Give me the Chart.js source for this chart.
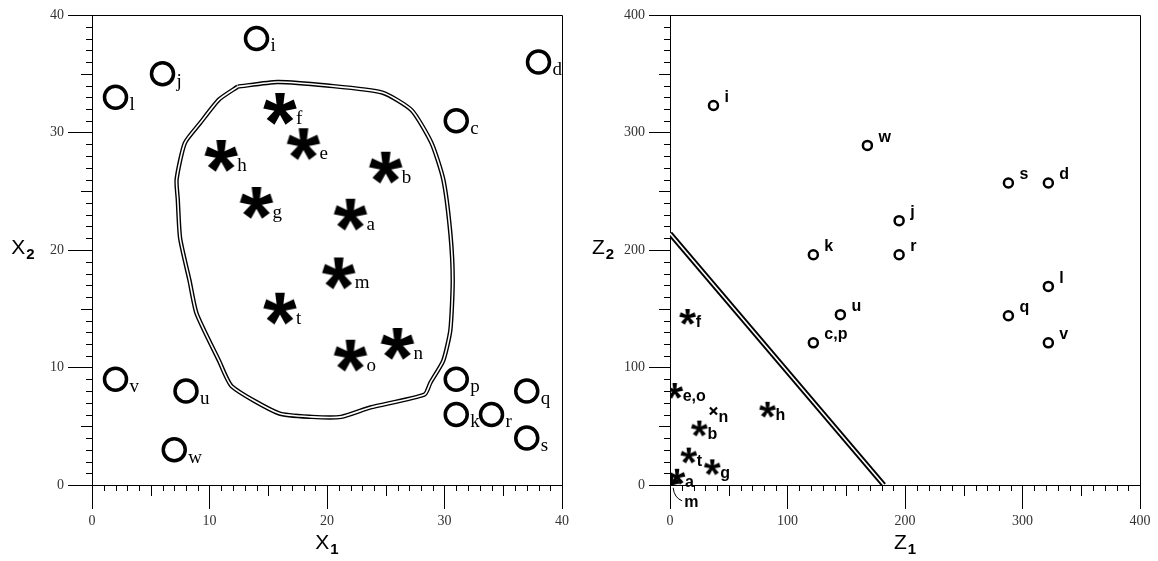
<!DOCTYPE html>
<html>
<head>
<meta charset="utf-8">
<script src="https://cdn.jsdelivr.net/npm/chart.js@4.4.1/dist/chart.umd.min.js"></script>
<style>
  body { margin: 0; background: #fff; width: 1158px; height: 561px; overflow: hidden; position: relative; }
  canvas { position: absolute; top: 0; }
  #left-chart { left: 0; }
  #right-chart { left: 580px; }
</style>
</head>
<body>
<canvas id="left-chart" width="580" height="561"></canvas>
<canvas id="right-chart" width="578" height="561"></canvas>
<script>
/* ================================
   DATA
   ================================ */

// left panel, original space X1 / X2 - open circles
const xCircleLabels = ['i', 'j', 'l', 'd', 'c', 'v', 'u', 'w', 'p', 'k', 'r', 'q', 's'];
const xCircleX1 = [14, 6, 2, 38, 31, 2, 8, 7, 31, 31, 34, 37, 37];
const xCircleX2 = [38, 35, 33, 36, 31, 9, 8, 3, 9, 6, 6, 8, 4];

// left panel - asterisks
const xStarLabels = ['f', 'e', 'h', 'b', 'g', 'a', 'm', 't', 'o', 'n'];
const xStarX1 = [16, 18, 11, 25, 14, 22, 21, 16, 22, 26];
const xStarX2 = [32, 29, 28, 27, 24, 23, 18, 15, 11, 12];

// left panel - closed boundary curve
const boundaryX1 = [12.4, 15.8, 20, 24.7, 27.2, 28.9, 29.9, 30.5, 30.7, 30.5, 29.9, 28.8, 28.3, 23.7, 21.2, 18.7, 15.9, 11.9, 10.8, 8.9, 8.3, 7.5, 7.3, 7.2, 7.9, 9.2, 10.8, 12.4];
const boundaryX2 = [33.9, 34.3, 34, 33.4, 31.9, 29.1, 26, 21.4, 17.4, 13.2, 10.6, 8.7, 7.7, 6.6, 5.8, 5.8, 6.1, 8.4, 10.6, 14.6, 17.4, 21, 24.3, 26, 29.1, 30.8, 32.8, 33.9];

// right panel, transformed space Z1 / Z2 - open circles
const zCircleLabels = ['i', 'w', 's', 'd', 'j', 'k', 'r', 'l', 'q', 'u', 'c,p', 'v'];
const zCircleZ1 = [37, 168, 288, 322, 195, 122, 195, 322, 288, 145, 122, 322];
const zCircleZ2 = [323, 289, 257, 257, 225, 196, 196, 169, 144, 145, 121, 121];

// right panel - asterisks
const zStarLabels = ['f', 'e,o', 'h', 'b', 't', 'g', 'a'];
const zStarZ1 = [15, 4, 83, 25, 16, 36, 6];
const zStarZ2 = [143, 80, 64, 48, 25, 15, 7];

// right panel - point m (label hangs below with a leader)
const zMLabels = ['m'];
const zMZ1 = [1];
const zMZ2 = [1];

// right panel - point n drawn as a small x
const zCrossLabels = ['n'];
const zCrossZ1 = [37];
const zCrossZ2 = [63];

// right panel - separating line
const lineZ1 = [0, 182];
const lineZ2 = [214, 0];

/* ================================
   HELPERS
   ================================ */

const toPoints = (xs, ys) => xs.map((v, k) => ({ x: v, y: ys[k] }));

// 5-armed asterisk used as a point image
function makeAsterisk(r, w) {
  const c = document.createElement('canvas');
  const s = Math.ceil(2 * r + w + 4);
  c.width = c.height = s;
  const g = c.getContext('2d');
  g.translate(s / 2, s / 2);
  g.fillStyle = '#000';
  for (let k = 0; k < 5; k++) {
    const a = -Math.PI / 2 + k * 2 * Math.PI / 5;
    const ca = Math.cos(a), sa = Math.sin(a);
    const nx = -sa, ny = ca;
    g.beginPath();
    g.moveTo(nx * w * 0.35, ny * w * 0.35);
    g.lineTo(r * ca + nx * w * 0.6, r * sa + ny * w * 0.6);
    g.lineTo(r * ca - nx * w * 0.6, r * sa - ny * w * 0.6);
    g.lineTo(-nx * w * 0.35, -ny * w * 0.35);
    g.closePath();
    g.fill();
  }
  g.beginPath();
  g.arc(0, 0, w * 0.5, 0, Math.PI * 2);
  g.fill();
  return c;
}

const bigStar = makeAsterisk(16, 8);
const smallStar = makeAsterisk(8, 3.8);

// minor ticks + top/right frame + axis titles
const frameTicks = {
  id: 'frameTicks',
  afterDraw(chart, args, opts) {
    const { ctx, chartArea: a, scales: { x, y } } = chart;
    ctx.save();
    ctx.strokeStyle = '#000';
    ctx.lineWidth = 1;
    ctx.beginPath();
    ctx.moveTo(a.left, a.top + 0.5);
    ctx.lineTo(a.right + 0.5, a.top + 0.5);
    ctx.lineTo(a.right + 0.5, a.bottom);
    for (let v = opts.minor; v < x.max; v += opts.minor) {
      if (v % opts.major === 0) continue;
      const len = v % opts.mid === 0 ? 11 : 6;
      const px = Math.round(x.getPixelForValue(v)) + 0.5;
      ctx.moveTo(px, a.bottom);
      ctx.lineTo(px, a.bottom + len);
    }
    for (let v = opts.minor; v < y.max; v += opts.minor) {
      if (v % opts.major === 0) continue;
      const len = v % opts.mid === 0 ? 11 : 6;
      const py = Math.round(y.getPixelForValue(v)) + 0.5;
      ctx.moveTo(a.left, py);
      ctx.lineTo(a.left - len, py);
    }
    ctx.stroke();

    // axis titles with subscripts
    const drawSub = (main, sub, cx, cy) => {
      ctx.font = '21px "Liberation Sans", Arial, sans-serif';
      const w1 = ctx.measureText(main).width;
      ctx.font = 'bold 15px "Liberation Sans", Arial, sans-serif';
      const w2 = ctx.measureText(sub).width;
      const left = cx - (w1 + w2 + 1) / 2;
      ctx.fillStyle = '#000';
      ctx.textBaseline = 'middle';
      ctx.textAlign = 'left';
      ctx.font = '21px "Liberation Sans", Arial, sans-serif';
      ctx.fillText(main, left, cy);
      ctx.font = 'bold 15px "Liberation Sans", Arial, sans-serif';
      ctx.fillText(sub, left + w1 + 1, cy + 7);
    };
    drawSub(opts.xTitle[0], opts.xTitle[1], (a.left + a.right) / 2, a.bottom + 58);
    drawSub(opts.yTitle[0], opts.yTitle[1], opts.yTitleX, (a.top + a.bottom) / 2 - 2);
    ctx.restore();
  }
};

// letter labels next to each point
const pointLabels = {
  id: 'pointLabels',
  afterDatasetsDraw(chart) {
    const ctx = chart.ctx;
    chart.data.datasets.forEach((ds, i) => {
      if (!ds.labels) return;
      const meta = chart.getDatasetMeta(i);
      ctx.save();
      ctx.font = ds.labelFont;
      ctx.fillStyle = '#000';
      ctx.textBaseline = 'middle';
      ctx.textAlign = 'left';
      meta.data.forEach((pt, j) => {
        ctx.fillText(ds.labels[j], pt.x + ds.labelDx, pt.y + ds.labelDy);
        if (ds.leader) {
          ctx.beginPath();
          ctx.lineWidth = 1;
          ctx.strokeStyle = '#000';
          ctx.moveTo(pt.x + 2, pt.y + 4);
          ctx.quadraticCurveTo(pt.x + 3, pt.y + 14, pt.x + 11, pt.y + 17);
          ctx.stroke();
        }
      });
      ctx.restore();
    });
  }
};

function scaleOpts(max, step, size, tickLen) {
  return {
    type: 'linear',
    min: 0,
    max: max,
    ticks: {
      stepSize: step,
      color: '#333',
      font: { family: '"Liberation Serif", serif', size: 14 },
      padding: 4,
      maxRotation: 0,
      autoSkip: false
    },
    grid: { drawOnChartArea: false, tickLength: tickLen, color: '#000' },
    border: { color: '#000' },
    afterFit: s => {
      if (s.isHorizontal()) s.height = size; else s.width = size;
    }
  };
}

function baseOptions(xMax, step, yWidth, yTick, ticksOpts) {
  return {
    responsive: false,
    animation: false,
    events: [],
    layout: { padding: { top: 15, right: 18, left: 0, bottom: 0 } },
    plugins: {
      legend: { display: false },
      tooltip: { enabled: false },
      frameTicks: ticksOpts
    },
    scales: {
      x: scaleOpts(xMax, step, 76, 24),
      y: scaleOpts(xMax, step, yWidth, yTick)
    }
  };
}

/* ================================
   LEFT PANEL
   ================================ */

new Chart(document.getElementById('left-chart'), {
  type: 'scatter',
  data: {
    datasets: [
      {
        data: toPoints(xCircleX1, xCircleX2),
        pointStyle: 'circle',
        pointRadius: 11,
        borderWidth: 3.5,
        borderColor: '#000',
        backgroundColor: '#fff',
        labels: xCircleLabels,
        labelFont: '19px "Liberation Serif", serif',
        labelDx: 14,
        labelDy: 8,
        order: 1
      },
      {
        data: toPoints(xStarX1, xStarX2),
        pointStyle: bigStar,
        labels: xStarLabels,
        labelFont: '19px "Liberation Serif", serif',
        labelDx: 16,
        labelDy: 10,
        order: 1
      },
      {
        data: toPoints(boundaryX1, boundaryX2),
        showLine: true,
        pointRadius: 0,
        borderColor: '#fff',
        borderWidth: 1.6,
        tension: 0.2,
        order: 2
      },
      {
        data: toPoints(boundaryX1, boundaryX2),
        showLine: true,
        pointRadius: 0,
        borderColor: '#000',
        borderWidth: 4.4,
        tension: 0.2,
        order: 3
      }
    ]
  },
  options: baseOptions(40, 10, 92, 24, {
    minor: 1, mid: 5, major: 10,
    xTitle: ['X', '1'], yTitle: ['X', '2'], yTitleX: 23
  }),
  plugins: [frameTicks, pointLabels]
});

/* ================================
   RIGHT PANEL
   ================================ */

new Chart(document.getElementById('right-chart'), {
  type: 'scatter',
  data: {
    datasets: [
      {
        data: toPoints(zCircleZ1, zCircleZ2),
        pointStyle: 'circle',
        pointRadius: 4.5,
        borderWidth: 2.5,
        borderColor: '#000',
        backgroundColor: '#fff',
        labels: zCircleLabels,
        labelFont: 'bold 16px "Liberation Sans", Arial, sans-serif',
        labelDx: 11,
        labelDy: -8,
        order: 1
      },
      {
        data: toPoints(zStarZ1, zStarZ2),
        pointStyle: smallStar,
        labels: zStarLabels,
        labelFont: 'bold 16px "Liberation Sans", Arial, sans-serif',
        labelDx: 8,
        labelDy: 6,
        order: 1
      },
      {
        data: toPoints(zMZ1, zMZ2),
        pointStyle: smallStar,
        labels: zMLabels,
        labelFont: 'bold 16px "Liberation Sans", Arial, sans-serif',
        labelDx: 13,
        labelDy: 19,
        leader: true,
        order: 1
      },
      {
        data: toPoints(zCrossZ1, zCrossZ2),
        pointStyle: 'crossRot',
        pointRadius: 5,
        borderWidth: 2.2,
        borderColor: '#000',
        labels: zCrossLabels,
        labelFont: 'bold 16px "Liberation Sans", Arial, sans-serif',
        labelDx: 5,
        labelDy: 7,
        order: 1
      },
      {
        data: toPoints(lineZ1, lineZ2),
        showLine: true,
        pointRadius: 0,
        borderColor: '#fff',
        borderWidth: 1.6,
        order: 2
      },
      {
        data: toPoints(lineZ1, lineZ2),
        showLine: true,
        pointRadius: 0,
        borderColor: '#000',
        borderWidth: 5.4,
        order: 3
      }
    ]
  },
  options: baseOptions(400, 100, 90, 21, {
    minor: 10, mid: 50, major: 100,
    xTitle: ['Z', '1'], yTitle: ['Z', '2'], yTitleX: 23
  }),
  plugins: [frameTicks, pointLabels]
});
</script>
</body>
</html>
